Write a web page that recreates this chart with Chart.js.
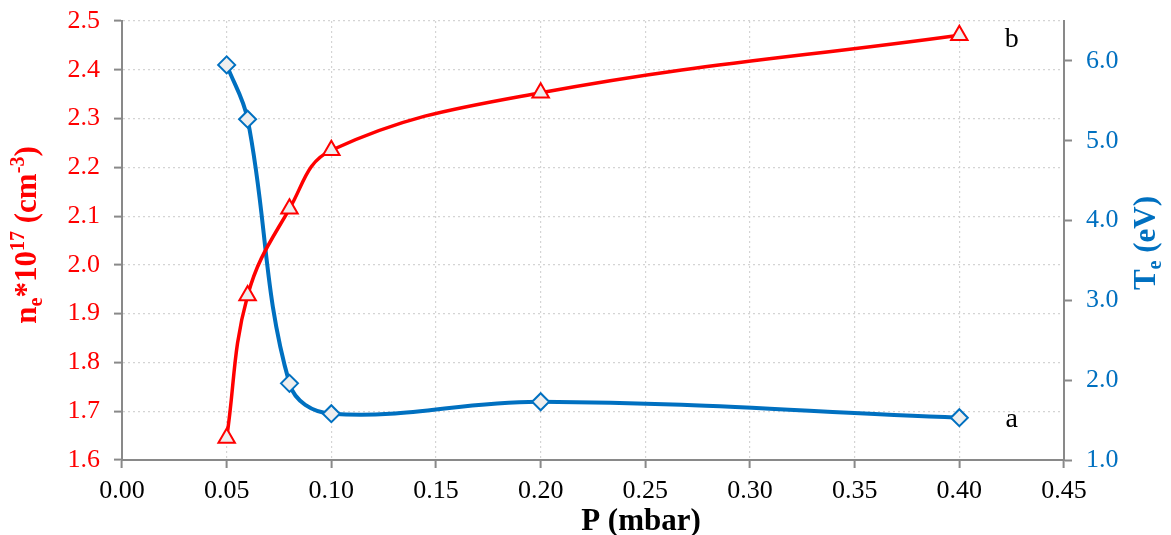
<!DOCTYPE html>
<html><head><meta charset="utf-8">
<script src="https://cdn.jsdelivr.net/npm/chart.js@4.4.0/dist/chart.umd.min.js"></script>
<style>html,body{margin:0;padding:0;background:#fff;overflow:hidden}</style>
</head><body>
<canvas id="c" width="1171" height="535" style="width:1171px;height:535px;display:block"></canvas>
<script>
// ---- data ----
const pressure = [0.05, 0.06, 0.08, 0.10, 0.20, 0.40];
const neValues = [1.645, 1.937, 2.115, 2.235, 2.353, 2.471];
const teValues = [5.95, 5.27, 1.96, 1.58, 1.73, 1.53];
const xTicks = [0, 0.05, 0.10, 0.15, 0.20, 0.25, 0.30, 0.35, 0.40, 0.45];
const leftTicks = [1.6, 1.7, 1.8, 1.9, 2.0, 2.1, 2.2, 2.3, 2.4, 2.5];
const rightTicks = [1, 2, 3, 4, 5, 6];
const curveLabelText = ['b', 'a'];
const curveLabelX = [0.425, 0.425];
const curveLabelY = [2.462, 1.50];
const curveLabelAxis = ['yL', 'yR'];

const RED = '#FF0000';
const BLUE = '#0070C0';
const AXIS = '#898989';
const GRID = '#d4d4d4';
const FONT = "'Liberation Serif', 'Times New Roman', serif";

function richDraw(ctx, parts, size, color) {
  let x = 0;
  for (const [t, m] of parts) {
    const s = m === 0 ? size : size * 0.65;
    ctx.font = 'bold ' + s + 'px ' + FONT;
    const dy = m === -1 ? size * 0.2 : (m === 1 ? -size * 0.4 : 0);
    if (color) { ctx.fillStyle = color; ctx.fillText(t, x, dy); }
    x += ctx.measureText(t).width;
  }
  return x;
}
function drawRichCentered(ctx, parts, size, color, cx, cy, rot) {
  ctx.save();
  ctx.textBaseline = 'alphabetic';
  ctx.textAlign = 'left';
  const w = richDraw(ctx, parts, size, null);
  ctx.translate(cx, cy);
  ctx.rotate(rot);
  ctx.translate(-w / 2, 0);
  richDraw(ctx, parts, size, color);
  ctx.restore();
}

const titlePlugin = {
  id: 'titles',
  afterDraw(chart) {
    const ctx = chart.ctx;
    drawRichCentered(ctx, [['P (mbar)', 0]], 31, '#000', 641, 530, 0);
    drawRichCentered(ctx, [['n', 0], ['e', -1], ['*10', 0], ['17', 1], [' (cm', 0], ['-3', 1], [')', 0]], 31, RED, 36, 235, -Math.PI / 2);
    drawRichCentered(ctx, [['T', 0], ['e', -1], [' (eV)', 0]], 31, BLUE, 1155, 243, -Math.PI / 2);
    ctx.save();
    ctx.font = '28px ' + FONT;
    ctx.fillStyle = '#000';
    ctx.textAlign = 'center';
    ctx.textBaseline = 'middle';
    for (let i = 0; i < curveLabelText.length; i++) {
      const px = chart.scales.x.getPixelForValue(curveLabelX[i]);
      const py = chart.scales[curveLabelAxis[i]].getPixelForValue(curveLabelY[i]);
      ctx.fillText(curveLabelText[i], px, py);
    }
    ctx.restore();
  }
};

const tickFont = { family: FONT, size: 26 };

new Chart(document.getElementById('c'), {
  type: 'line',
  data: {
    datasets: [
      {
        label: 'ne',
        data: pressure.map((x, i) => ({ x, y: neValues[i] })),
        yAxisID: 'yL',
        borderColor: RED,
        borderWidth: 3.5,
        tension: 0.4,
        pointStyle: 'triangle',
        pointRadius: 9.5,
        pointBorderWidth: 2,
        pointBorderColor: RED,
        pointBackgroundColor: '#eeeeee',
        fill: false
      },
      {
        label: 'Te',
        data: pressure.map((x, i) => ({ x, y: teValues[i] })),
        yAxisID: 'yR',
        borderColor: BLUE,
        borderWidth: 4,
        tension: 0.38,
        pointStyle: 'rectRot',
        pointRadius: 8.5,
        pointBorderWidth: 2,
        pointBorderColor: BLUE,
        pointBackgroundColor: '#eeeeee',
        fill: false
      }
    ]
  },
  options: {
    responsive: false,
    animation: false,
    devicePixelRatio: 1,
    layout: { padding: { top: 21, left: 0, right: 0, bottom: 0 } },
    plugins: { legend: { display: false }, tooltip: { enabled: false } },
    scales: {
      x: {
        type: 'linear',
        position: 'bottom',
        min: 0, max: 0.45,
        afterBuildTicks: s => { s.ticks = xTicks.map(v => ({ value: v })); },
        afterFit: s => { s.height = 75; s.paddingLeft = 0; s.paddingRight = 0; },
        ticks: { font: tickFont, color: '#000', padding: 8, maxRotation: 0, autoSkip: false,
                 callback: v => Number(v).toFixed(2) },
        grid: { color: GRID, lineWidth: 1.2, tickColor: AXIS, tickLength: 8, tickWidth: 2, tickBorderDash: [] },
        border: { color: AXIS, width: 2, dash: [2, 3] }
      },
      yL: {
        type: 'linear',
        position: 'left',
        min: 1.6, max: 2.5,
        afterBuildTicks: s => { s.ticks = leftTicks.map(v => ({ value: v })); },
        afterFit: s => { s.width = 122; s.paddingTop = 0; s.paddingBottom = 0; },
        ticks: { font: tickFont, color: RED, padding: 14, autoSkip: false,
                 callback: v => Number(v).toFixed(1) },
        grid: { color: GRID, lineWidth: 1.2, tickColor: AXIS, tickLength: 8, tickWidth: 2, tickBorderDash: [] },
        border: { color: AXIS, width: 2, dash: [2, 3] }
      },
      yR: {
        type: 'linear',
        position: 'right',
        min: 1, max: 6.5,
        afterBuildTicks: s => { s.ticks = rightTicks.map(v => ({ value: v })); },
        afterFit: s => { s.width = 107; s.paddingTop = 0; s.paddingBottom = 0; },
        ticks: { font: tickFont, color: BLUE, padding: 14, autoSkip: false,
                 callback: v => Number(v).toFixed(1) },
        grid: { drawOnChartArea: false, tickColor: AXIS, tickLength: 8, tickWidth: 2 },
        border: { color: AXIS, width: 2 }
      }
    }
  },
  plugins: [titlePlugin]
});
</script>
</body></html>
